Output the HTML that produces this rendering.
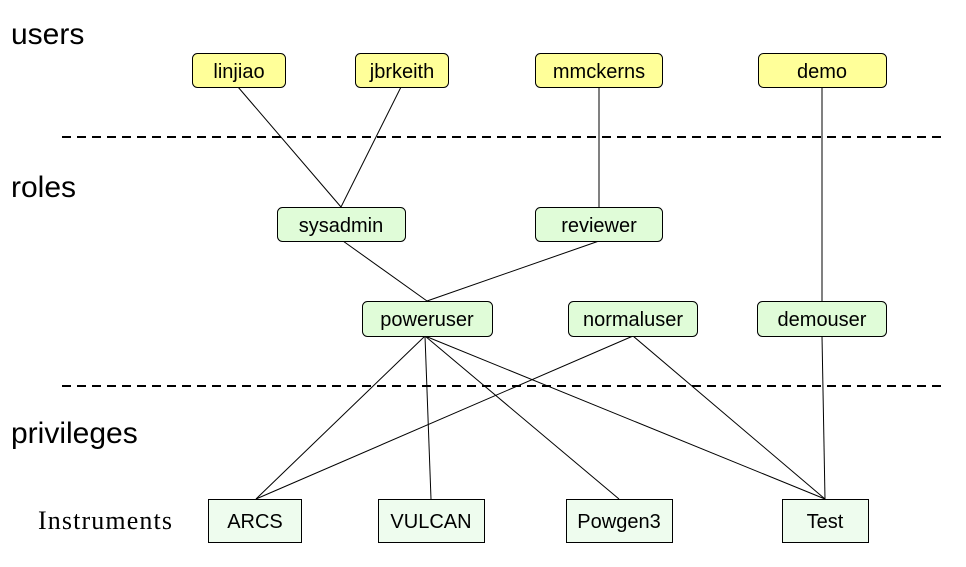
<!DOCTYPE html>
<html><head><style>
html,body{margin:0;padding:0;background:#fff;}
svg{display:block;font-family:"Liberation Sans",Arial,sans-serif;}
</style></head><body>
<svg width="966" height="567" viewBox="0 0 966 567" xmlns="http://www.w3.org/2000/svg">
<g font-size="30" fill="#000">
<text x="11" y="44">users</text>
<text x="11" y="197">roles</text>
<text x="11" y="443">privileges</text>
</g>
<text x="38" y="529" font-family="Liberation Serif,serif" font-size="26" textLength="134">Instruments</text>
<g stroke="#000" stroke-width="2" stroke-dasharray="9,6">
<line x1="62" y1="137" x2="946" y2="137"/>
<line x1="62" y1="386" x2="946" y2="386"/>
</g>
<g stroke="#000" stroke-width="1">
<line x1="238" y1="87" x2="341" y2="207"/>
<line x1="401" y1="87" x2="341" y2="207"/>
<line x1="599" y1="87" x2="599" y2="207"/>
<line x1="822" y1="87" x2="822" y2="301"/>
<line x1="343" y1="241" x2="427" y2="301"/>
<line x1="599" y1="241" x2="427" y2="301"/>
<line x1="425" y1="336" x2="256" y2="499"/>
<line x1="425" y1="336" x2="431" y2="499"/>
<line x1="425" y1="336" x2="619" y2="499"/>
<line x1="425" y1="336" x2="825" y2="499"/>
<line x1="633" y1="336" x2="256" y2="499"/>
<line x1="633" y1="336" x2="825" y2="499"/>
<line x1="822" y1="336" x2="825" y2="499"/>
</g>
<g stroke="#000" stroke-width="1" fill="#ffff99">
<rect x="192.5" y="53.5" width="93" height="34" rx="5"/>
<rect x="355.5" y="53.5" width="93" height="34" rx="5"/>
<rect x="535.5" y="53.5" width="127" height="34" rx="5"/>
<rect x="758.5" y="53.5" width="128" height="34" rx="5"/>
</g>
<g stroke="#000" stroke-width="1" fill="#e0fcd8">
<rect x="277.5" y="207.5" width="128" height="34" rx="5"/>
<rect x="535.5" y="207.5" width="127" height="34" rx="5"/>
<rect x="362.5" y="301.5" width="130" height="35" rx="5"/>
<rect x="568.5" y="301.5" width="129" height="35" rx="5"/>
<rect x="757.5" y="301.5" width="129" height="35" rx="5"/>
</g>
<g stroke="#000" stroke-width="1" fill="#eefcee">
<rect x="208.5" y="499.5" width="93" height="43"/>
<rect x="378.5" y="499.5" width="106" height="43"/>
<rect x="566.5" y="499.5" width="106" height="43"/>
<rect x="782.5" y="499.5" width="86" height="43"/>
</g>
<g font-size="20" text-anchor="middle" fill="#000">
<text x="239" y="78">linjiao</text>
<text x="402" y="78">jbrkeith</text>
<text x="599" y="78">mmckerns</text>
<text x="822" y="78">demo</text>
<text x="341" y="232">sysadmin</text>
<text x="599" y="232">reviewer</text>
<text x="427" y="326">poweruser</text>
<text x="633" y="326">normaluser</text>
<text x="822" y="326">demouser</text>
<text x="255" y="528">ARCS</text>
<text x="431" y="528">VULCAN</text>
<text x="619" y="528">Powgen3</text>
<text x="825" y="528">Test</text>
</g>
</svg>
</body></html>
